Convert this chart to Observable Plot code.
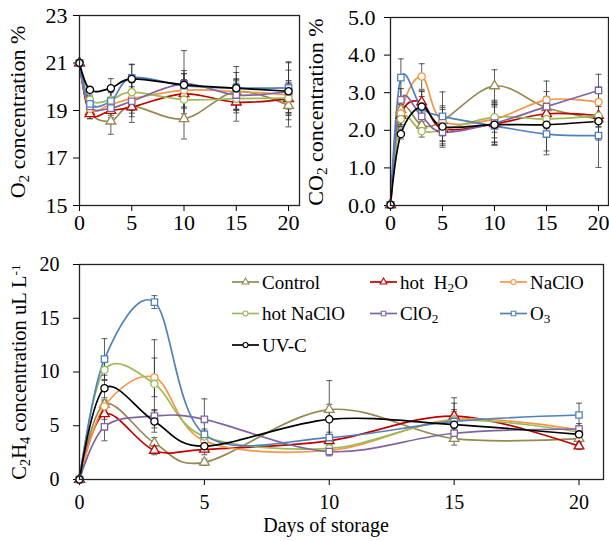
<!DOCTYPE html>
<html><head><meta charset="utf-8">
<script src="https://cdn.jsdelivr.net/npm/d3@7"></script>
<script src="https://cdn.jsdelivr.net/npm/@observablehq/plot@0.6"></script>
<style>
body{margin:0;background:#fff;}
#wrap{position:relative;width:609px;height:541px;font-family:"Liberation Serif","Times New Roman",serif;}
#wrap svg{position:absolute;overflow:visible;}
</style></head><body><div id="wrap"></div>
<script>
const days = [0, 1, 3, 5, 10, 15, 20];
const treatments = ["Control", "hot H2O", "NaClO", "hot NaClO", "ClO2", "O3", "UV-C"];
const colors = ["#948a54", "#c00000", "#f79646", "#9bbb59", "#8064a2", "#4f81bd", "#000000"];
const symbols = ["triangle", "triangle", "circle", "circle", "square", "square", "circle"];

// O2 concentration % (rows follow treatments)
const o2Mean = [
  [21, 18.95, 18.55, 19.17, 18.65, 19.8, 19.21],
  [21, 18.86, 19.0, 19.14, 19.7, 19.35, 19.49],
  [21, 19.07, 19.25, 19.5, 19.85, 19.8, 19.66],
  [21, 19.45, 19.45, 19.77, 19.46, 19.5, 19.52],
  [21, 19.17, 19.1, 19.39, 20.12, 19.65, 19.8],
  [21, 19.28, 19.4, 20.38, 20.05, 19.95, 19.95],
  [21, 19.87, 19.94, 20.33, 20.08, 19.94, 19.81]
];
const o2Sd = [
  [0, 0.3, 0.55, 0.67, 0.85, 0.8, 0.9],
  [0, 0.2, 0.3, 0.4, 0.6, 0.8, 0.7],
  [0, 0.3, 0.3, 0.5, 0.7, 0.5, 0.6],
  [0, 0.2, 0.3, 0.4, 0.6, 0.6, 0.6],
  [0, 0.2, 0.3, 0.5, 1.4, 0.6, 0.9],
  [0, 0.3, 0.4, 0.57, 0.5, 0.9, 1.1],
  [0, 0.1, 0.4, 0.6, 0.6, 0.4, 1.2]
];
// CO2 concentration %
const co2Mean = [
  [0.02, 2.55, 2.13, 2.25, 3.18, 2.6, 2.3],
  [0.02, 2.39, 2.75, 2.04, 2.17, 2.44, 2.39],
  [0.02, 2.45, 3.43, 2.25, 2.3, 2.81, 2.75],
  [0.02, 2.3, 1.98, 2.01, 2.35, 2.3, 2.39],
  [0.02, 2.81, 2.37, 1.95, 2.19, 2.63, 3.06],
  [0.02, 3.4, 2.6, 2.37, 2.12, 1.9, 1.86],
  [0.02, 1.9, 2.63, 2.1, 2.15, 2.15, 2.24]
];
const co2Sd = [
  [0, 0.2, 0.2, 0.3, 0.43, 0.3, 0.4],
  [0, 0.3, 0.3, 0.4, 0.5, 0.4, 0.3],
  [0, 0.3, 0.34, 0.4, 0.5, 0.5, 0.4],
  [0, 0.2, 0.16, 0.3, 0.4, 0.4, 0.3],
  [0, 0.3, 0.2, 0.4, 0.5, 0.4, 0.43],
  [0, 0.5, 0.3, 0.65, 0.5, 0.55, 0.85],
  [0, 0.13, 0.4, 0.5, 0.55, 0.7, 0.5]
];
// C2H4 concentration uL L-1
const c2h4Mean = [
  [0, 7.0, 3.4, 1.6, 6.5, 3.8, 3.8],
  [0, 6.1, 2.7, 2.8, 3.6, 5.9, 3.1],
  [0, 6.8, 9.5, 3.6, 2.7, 5.6, 4.6],
  [0, 10.2, 8.9, 4.0, 2.9, 5.5, 4.4],
  [0, 4.9, 5.9, 5.6, 2.6, 4.3, 4.7],
  [0, 11.2, 16.5, 4.2, 3.9, 5.4, 6.0],
  [0, 8.5, 5.4, 3.1, 5.6, 5.1, 4.2]
];
const c2h4Sd = [
  [0, 0.6, 0.5, 0.3, 2.7, 0.6, 0.5],
  [0, 0.5, 0.4, 0.5, 0.4, 1.7, 0.3],
  [0, 0.6, 1.8, 0.5, 0.3, 1.5, 0.4],
  [0, 1.0, 4.1, 0.5, 0.3, 1.0, 0.4],
  [0, 1.3, 0.6, 1.9, 0.4, 0.6, 0.5],
  [0, 1.9, 0.6, 0.5, 0.5, 0.7, 1.1],
  [0, 1.2, 1.0, 0.5, 1.4, 1.2, 0.4]
];

const capSymbol = {draw(ctx, size) { const r = Math.sqrt(size / Math.PI); ctx.moveTo(-r, 0); ctx.lineTo(r, 0); }};
const FONT = '"Liberation Serif","Times New Roman",serif';

function panel(o) {
  const rows = [];
  treatments.forEach((t, i) => days.forEach((d, j) => rows.push({t, day: d, v: o.mean[i][j], sd: o.sd[i][j]})));
  const err = rows.filter(d => d.sd > 0);
  const svg = Plot.plot({
    width: o.width, height: o.height,
    marginLeft: o.mL, marginRight: o.mR, marginTop: o.mT, marginBottom: o.mB,
    style: {fontFamily: FONT, fontSize: o.fs + "px", color: "#000", background: "transparent"},
    x: {domain: [0, o.xMax], ticks: [0, 5, 10, 15, 20], tickSize: 6, tickPadding: o.xPad, label: null},
    y: {domain: o.yDomain, ticks: o.yTicks, tickFormat: o.fmt, tickSize: 6, tickPadding: o.yPad, label: null},
    color: {domain: treatments, range: colors},
    symbol: {domain: treatments, range: symbols},
    marks: [
      Plot.line(rows, {x: "day", y: "v", z: "t", stroke: "t", curve: "cardinal", strokeWidth: 1.7}),
      Plot.ruleX(err, {x: "day", y1: d => d.v - d.sd, y2: d => d.v + d.sd, stroke: "#333", strokeWidth: 0.8}),
      Plot.dot(err, {x: "day", y: d => d.v - d.sd, symbol: capSymbol, r: 3, stroke: "#333", strokeWidth: 0.8}),
      Plot.dot(err, {x: "day", y: d => d.v + d.sd, symbol: capSymbol, r: 3, stroke: "#333", strokeWidth: 0.8}),
      Plot.dot(rows, {x: "day", y: "v", symbol: "t", stroke: "t", fill: "white", r: 3.6, strokeWidth: 1.3}),
      Plot.frame({stroke: "#222", strokeWidth: 1.3})
    ]
  });
  svg.style.left = o.left + "px";
  svg.style.top = o.top + "px";
  document.getElementById("wrap").appendChild(svg);
  return d3.select(svg);
}

function richText(g, parts, attrs) {
  const t = g.append("text").attr("font-family", FONT).attr("fill", "#000")
    .attr("text-anchor", "start").style("white-space", "pre");
  Object.entries(attrs).forEach(([k, v]) => t.attr(k, v));
  parts.forEach(p => {
    const s = t.append("tspan").text(p.s);
    if (p.sub) s.attr("font-size", "70%").attr("baseline-shift", "-25%");
    if (p.sup) s.attr("font-size", "65%").attr("baseline-shift", "45%");
  });
  return t;
}

const tl = panel({mean: o2Mean, sd: o2Sd, yDomain: [15, 23], yTicks: [15, 17, 19, 21, 23], fmt: d3.format("d"),
  xMax: 21.05, width: 300, height: 245, mL: 79, mR: 1, mT: 15, mB: 40, left: 0, top: 0, fs: 22, xPad: 3, yPad: 6});
richText(tl, [{s: "O"}, {s: "2", sub: true}, {s: " concentration %"}],
  {"font-size": 22, "text-anchor": "middle", transform: "translate(25,112) rotate(-90)"});

const tr = panel({mean: co2Mean, sd: co2Sd, yDomain: [0, 5], yTicks: [0, 1, 2, 3, 4, 5], fmt: d3.format(".1f"),
  xMax: 20.96, width: 314, height: 245, mL: 95, mR: 1, mT: 17, mB: 40, left: 295, top: 0, fs: 22, xPad: 3, yPad: 9});
richText(tr, [{s: "CO"}, {s: "2", sub: true}, {s: " concentration %"}],
  {"font-size": 22, "text-anchor": "middle", transform: "translate(28,112) rotate(-90)"});

const bt = panel({mean: c2h4Mean, sd: c2h4Sd, yDomain: [0, 20], yTicks: [0, 5, 10, 15, 20], fmt: d3.format("d"),
  xMax: 20.98, width: 609, height: 296, mL: 79, mR: 6, mT: 19, mB: 62, left: 0, top: 245, fs: 20, xPad: 9, yPad: 14});
richText(bt, [{s: "C"}, {s: "2", sub: true}, {s: "H"}, {s: "4", sub: true}, {s: " concentration uL L"}, {s: "-1", sup: true}],
  {"font-size": 20.5, "text-anchor": "middle", transform: "translate(26,127) rotate(-90)"});
richText(bt, [{s: "Days of storage"}], {"font-size": 20, "text-anchor": "middle", x: 326, y: 287});

// legend
const legendLabels = [
  [{s: "Control"}],
  [{s: "hot  H"}, {s: "2", sub: true}, {s: "O"}],
  [{s: "NaClO"}],
  [{s: "hot NaClO"}],
  [{s: "ClO"}, {s: "2", sub: true}],
  [{s: "O"}, {s: "3", sub: true}],
  [{s: "UV-C"}]
];
const colX = [232, 370, 500];
const rowY = [37, 68.5, 100];
treatments.forEach((t, i) => {
  const x0 = colX[i % 3], y0 = rowY[Math.floor(i / 3)];
  bt.append("line").attr("x1", x0).attr("x2", x0 + 27).attr("y1", y0).attr("y2", y0)
    .attr("stroke", colors[i]).attr("stroke-width", 1.7);
  const sym = d3.symbol().type(symbols[i] === "triangle" ? d3.symbolTriangle : symbols[i] === "square" ? d3.symbolSquare : d3.symbolCircle).size(20);
  bt.append("path").attr("d", sym()).attr("transform", `translate(${x0 + 13.5},${y0})`)
    .attr("fill", "white").attr("stroke", colors[i]).attr("stroke-width", 1.1);
  richText(bt, legendLabels[i], {"font-size": 19, x: x0 + 30, y: y0 + 6.5});
});
</script></body></html>
